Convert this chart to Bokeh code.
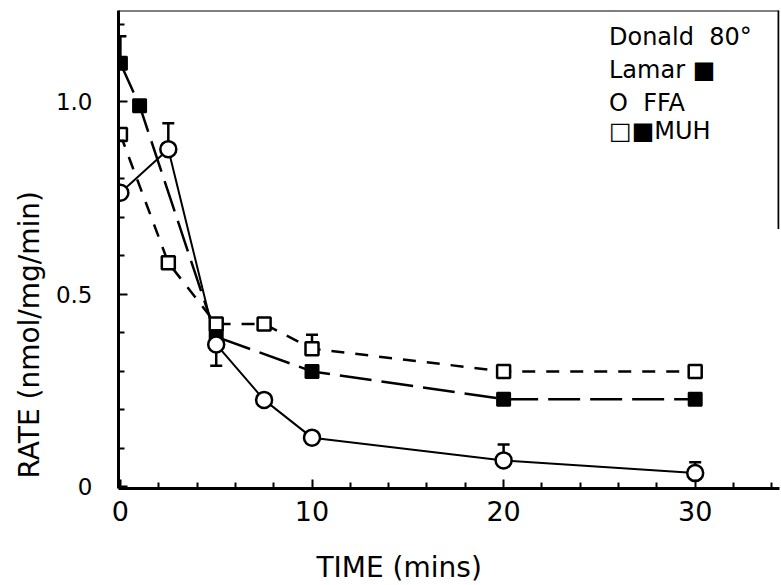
from bokeh.plotting import figure
from bokeh.models import Range1d, FixedTicker, Whisker, TeeHead, ColumnDataSource, Label, Span, Title
from bokeh.embed import file_html
from bokeh.resources import INLINE

# --- data ---
ffa_t = [0, 2.5, 5, 7.5, 10, 20, 30]
ffa_rate = [0.764, 0.877, 0.37, 0.226, 0.128, 0.069, 0.036]

lamar_t = [0, 1, 5, 10, 20, 30]
lamar_rate = [1.10, 0.99, 0.39, 0.30, 0.228, 0.228]

donald_t = [0, 2.5, 5, 7.5, 10, 20, 30]
donald_rate = [0.915, 0.582, 0.423, 0.423, 0.359, 0.30, 0.30]

# one-sided error bars: x, mean, tip
err_up_t = [0, 2.5, 10, 20, 30]
err_up_base = [1.10, 0.877, 0.359, 0.069, 0.036]
err_up_tip = [1.17, 0.944, 0.395, 0.11, 0.064]
err_dn_t = [5]
err_dn_base = [0.37]
err_dn_tip = [0.315]

x_ticks = [0, 10, 20, 30]
x_minor = [2, 4, 6, 8, 12, 14, 16, 18, 22, 24, 26, 28, 32, 34]
y_ticks = [0, 0.5, 1.0]
y_minor = [0.1, 0.2, 0.3, 0.4, 0.6, 0.7, 0.8, 0.9, 1.1, 1.2]
y_tick_labels = {0: "0", 0.5: "0.5", 1: "1.0"}

x_title = "TIME (mins)"
y_title = "RATE (nmol/mg/min)"
legend_lines = ["Donald\u00a0\u00a080\u00b0", "Lamar\u00a0\u25a0", "O\u00a0\u00a0FFA", "\u25a1\u25a0MUH"]

FONT = "DejaVu Sans"

p = figure(width=781, height=585, output_backend="svg", toolbar_location=None,
           x_range=Range1d(-0.1, 34.4), y_range=Range1d(-0.004, 1.237),
           min_border_left=118, min_border_right=2, min_border_top=10, min_border_bottom=95)
p.grid.visible = False
p.outline_line_color = None
p.background_fill_color = "white"

# axes
for ax in (p.xaxis[0], p.yaxis[0]):
    ax.axis_line_width = 3
    ax.axis_line_color = "black"
    ax.major_tick_in = 9
    ax.major_tick_out = 0
    ax.minor_tick_in = 6
    ax.minor_tick_out = 0
    ax.major_tick_line_width = 2
    ax.minor_tick_line_width = 2
    ax.major_label_text_font = FONT
    ax.major_label_text_color = "black"

p.xaxis.ticker = FixedTicker(ticks=x_ticks, minor_ticks=x_minor)
p.xaxis.major_label_text_font_size = "27px"
p.xaxis.major_label_standoff = 12

p.yaxis.ticker = FixedTicker(ticks=y_ticks, minor_ticks=y_minor)
p.yaxis.major_label_overrides = y_tick_labels
p.yaxis.major_label_text_font_size = "23px"
p.yaxis.major_label_standoff = 26

# axis titles (placed off-centre like the original)
p.add_layout(Title(text=y_title, align="left", offset=10, standoff=14,
                   text_font=FONT, text_font_size="28px", text_font_style="normal",
                   text_color="black"), "left")
# thin spacer between the x tick labels and the x title
p.add_layout(Title(text=" ", text_font_size="1px", standoff=24), "below")
p.add_layout(Title(text=x_title, align="left", offset=198, standoff=0,
                   vertical_align="top",
                   text_font=FONT, text_font_size="28px", text_font_style="normal",
                   text_color="black"), "below")

# frame top and partial right border
p.add_layout(Span(location=1.237, dimension="width", line_color="black", line_width=2))
p.segment(x0=[34.35], y0=[0.67], x1=[34.35], y1=[1.237], line_color="black", line_width=2)

# series lines
p.line(donald_t, donald_rate, line_color="black", line_width=2.5, line_dash="13 11")
p.line(lamar_t, lamar_rate, line_color="black", line_width=2.5, line_dash="32 10")
p.line(ffa_t, ffa_rate, line_color="black", line_width=2)

# error bars
up = ColumnDataSource(dict(x=err_up_t, lo=err_up_base, hi=err_up_tip))
dn = ColumnDataSource(dict(x=err_dn_t, lo=err_dn_tip, hi=err_dn_base))
p.add_layout(Whisker(source=up, base="x", lower="lo", upper="hi", line_width=2.5,
                     upper_head=TeeHead(size=12, line_width=2.5), lower_head=None))
p.add_layout(Whisker(source=dn, base="x", lower="lo", upper="hi", line_width=2.5,
                     lower_head=TeeHead(size=12, line_width=2.5), upper_head=None))

# markers
p.scatter(donald_t, donald_rate, marker="square", size=13, fill_color="white",
          line_color="black", line_width=2.5)
p.scatter(lamar_t, lamar_rate, marker="square", size=13, fill_color="black",
          line_color="black", line_width=2)
p.scatter(ffa_t, ffa_rate, marker="circle", size=16, fill_color="white",
          line_color="black", line_width=2.5)

# legend text
leg_y = [1.167, 1.082, 0.997, 0.923]
for txt, yy in zip(legend_lines, leg_y):
    p.add_layout(Label(x=25.5, y=yy, text=txt, text_font=FONT, text_font_size="24px",
                       text_baseline="middle", text_color="black"))

open("out.html", "w").write(file_html(p, INLINE))
